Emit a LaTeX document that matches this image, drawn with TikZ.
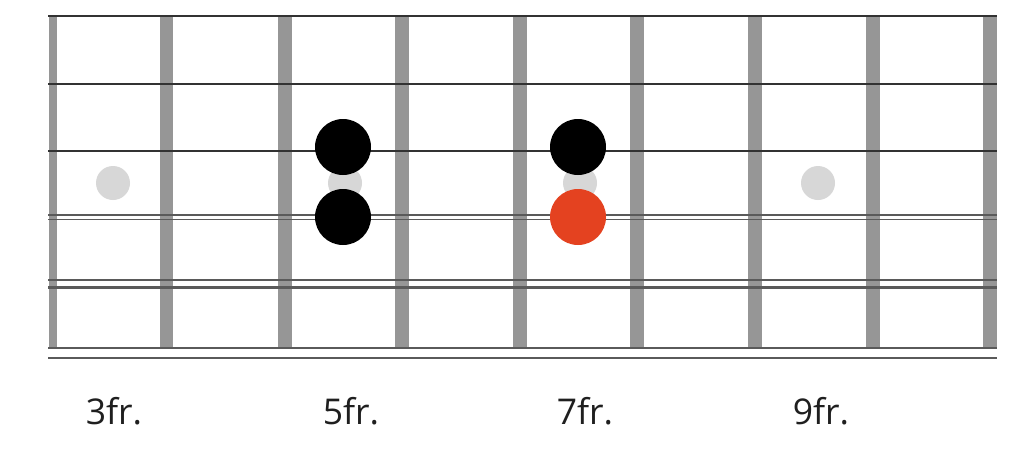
\documentclass[tikz,border=0pt]{standalone}
\usepackage{fontspec}
\setmainfont{Open Sans}
\definecolor{fretgray}{RGB}{150,150,150}
\definecolor{strdark}{RGB}{50,50,50}
\definecolor{strgray}{RGB}{90,90,90}
\definecolor{inlay}{RGB}{215,215,215}
\definecolor{rootred}{RGB}{228,66,32}
\begin{document}
\begin{tikzpicture}[x=1pt,y=-1pt,
  fretbar/.style={fill=fretgray,draw=none},
  plainstr/.style={draw=strdark,line width=2.2pt},
  woundstr/.style={draw=strgray,line width=2.4pt},
  inlaydot/.style={circle,fill=inlay,draw=none,minimum size=34pt,inner sep=0pt},
  notedot/.style={circle,fill=black,draw=none,minimum size=56pt,inner sep=0pt},
  rootdot/.style={circle,fill=rootred,draw=none,minimum size=56pt,inner sep=0pt},
  frlabel/.style={font=\fontsize{35.5}{40}\selectfont,text=black!88,inner sep=0pt}]
\useasboundingbox[fill=white] (0,0) rectangle (1024,463);
% fret bars
\fill[fretgray] (49,16) rectangle (56.5,348);
\foreach \x in {166.5,285,402,520,637,755,873,990}{
  \fill[fretgray] (\x-6.8,16) rectangle (\x+6.8,348);
}
% inlay dots
\node[inlaydot] (i3) at (113,183) {};
\node[inlaydot] (i5) at (345,183) {};
\node[inlaydot] (i7) at (580,183) {};
\node[inlaydot] (i9) at (818,183) {};
% strings
\draw[plainstr] (48,16) -- (997,16);
\draw[plainstr] (48,84) -- (997,84);
\draw[plainstr] (48,151) -- (997,151);
\draw[woundstr,line width=1.9pt] (48,215) -- (997,215);
\draw[woundstr,line width=1.9pt] (48,219.5) -- (997,219.5);
\draw[woundstr] (48,280) -- (997,280);
\draw[woundstr] (48,287.5) -- (997,287.5);
\draw[woundstr] (48,348) -- (997,348);
\draw[woundstr] (48,358) -- (997,358);
% notes
\node[notedot] (n1) at (343,147) {};
\node[notedot] (n2) at (343,217) {};
\node[notedot] (n3) at (578,147) {};
\node[rootdot] (n4) at (578,217) {};
% labels
\node[frlabel] (l3) at (114,411) {3fr.};
\node[frlabel] (l5) at (351,411) {5fr.};
\node[frlabel] (l7) at (585,411) {7fr.};
\node[frlabel] (l9) at (821,411) {9fr.};
\end{tikzpicture}
\end{document}
